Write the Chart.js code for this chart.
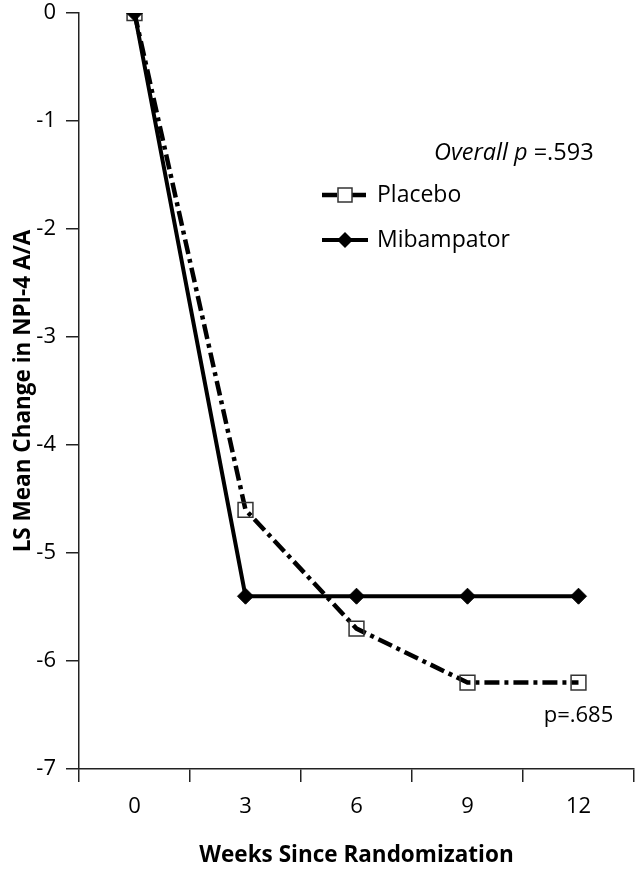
<!DOCTYPE html>
<html>
<head>
<meta charset="utf-8">
<script src="https://cdn.jsdelivr.net/npm/chart.js@4.4.0/dist/chart.umd.min.js"></script>
<style>
  html, body { margin: 0; padding: 0; background: #fff; overflow: hidden; }
  canvas { display: block; }
</style>
</head>
<body>
<canvas id="chart" width="635" height="871"></canvas>
<script>
// data
const weeks = ['0', '3', '6', '9', '12'];
const placebo = [0, -4.6, -5.7, -6.2, -6.2];
const mibampator = [0, -5.4, -5.4, -5.4, -5.4];

const FONT = '"Open Sans", "Noto Sans", sans-serif';
const DASH = [15, 5, 4, 5];

// legend + p-value notes, drawn by hand so the legend sample shows line and marker
const notesPlugin = {
  id: 'notes',
  afterDraw(chart) {
    const ctx = chart.ctx;
    ctx.save();
    ctx.fillStyle = '#000';
    ctx.textBaseline = 'middle';

    // Overall p
    ctx.font = 'italic 23.5px ' + FONT;
    ctx.textAlign = 'left';
    const lead = 'Overall p ';
    ctx.fillText(lead, 434, 153);
    const w = ctx.measureText(lead).width;
    ctx.font = '23.5px ' + FONT;
    ctx.fillText('=.593', 434 + w, 153);

    // legend: placebo
    ctx.strokeStyle = '#000';
    ctx.lineWidth = 4.5;
    ctx.setLineDash(DASH);
    ctx.beginPath();
    ctx.moveTo(322, 195);
    ctx.lineTo(368, 195);
    ctx.stroke();
    ctx.setLineDash([]);
    ctx.fillStyle = '#fff';
    ctx.fillRect(338, 188, 14, 14);
    ctx.strokeStyle = '#333';
    ctx.lineWidth = 1.5;
    ctx.strokeRect(338, 188, 14, 14);

    // legend: mibampator
    ctx.strokeStyle = '#000';
    ctx.lineWidth = 4;
    ctx.beginPath();
    ctx.moveTo(322, 240);
    ctx.lineTo(368, 240);
    ctx.stroke();
    ctx.fillStyle = '#000';
    ctx.beginPath();
    ctx.moveTo(345, 232);
    ctx.lineTo(353, 240);
    ctx.lineTo(345, 248);
    ctx.lineTo(337, 240);
    ctx.closePath();
    ctx.fill();

    ctx.font = '23px ' + FONT;
    ctx.fillText('Placebo', 377, 195);
    ctx.fillText('Mibampator', 377, 240);

    // week 12 p-value, placed under the last placebo point
    const xs = chart.scales.x, ys = chart.scales.y;
    const last = placebo.length - 1;
    const px = xs.getPixelForValue(last);
    const py = ys.getPixelForValue(placebo[last]);
    ctx.font = '22px ' + FONT;
    ctx.textAlign = 'center';
    ctx.fillText('p=.685', px, py + 33);
    ctx.restore();
  }
};

new Chart(document.getElementById('chart'), {
  type: 'line',
  data: {
    labels: weeks,
    datasets: [
      {
        label: 'Mibampator',
        data: mibampator,
        borderColor: '#000',
        borderWidth: 4,
        pointStyle: 'rectRot',
        pointRadius: 8,
        pointBackgroundColor: '#000',
        pointBorderColor: '#000',
        pointBorderWidth: 1,
        tension: 0
      },
      {
        label: 'Placebo',
        data: placebo,
        borderColor: '#000',
        borderWidth: 4.5,
        borderDash: DASH,
        pointStyle: 'rect',
        pointRadius: 10.5,
        pointBackgroundColor: 'rgba(0,0,0,0)',
        pointBorderColor: '#333',
        pointBorderWidth: 1.5,
        tension: 0
      }
    ]
  },
  options: {
    responsive: false,
    animation: false,
    layout: { autoPadding: false, padding: { top: 13, right: 1, left: 0, bottom: 0 } },
    plugins: {
      legend: { display: false },
      tooltip: { enabled: false }
    },
    scales: {
      x: {
        offset: true,
        afterFit: s => {
          s.height = 102;
          s.paddingLeft = 0;
          s.paddingRight = 0;
        },
        grid: {
          offset: true,
          drawOnChartArea: false,
          tickLength: 13,
          color: '#222',
          lineWidth: 1.5
        },
        border: { color: '#222', width: 1.5 },
        ticks: { color: '#000', font: { family: FONT, size: 22 }, padding: 12 },
        title: {
          display: true,
          text: 'Weeks Since Randomization',
          color: '#000',
          font: { family: FONT, size: 22.5, weight: 'bold' },
          padding: { top: 0, bottom: 2 }
        }
      },
      y: {
        min: -7,
        max: 0,
        afterFit: s => {
          s.width = 79;
          s.paddingTop = 0;
          s.paddingBottom = 0;
        },
        grid: {
          drawOnChartArea: false,
          tickLength: 13,
          color: '#222',
          lineWidth: 1.5
        },
        border: { color: '#222', width: 1.5 },
        ticks: { stepSize: 1, color: '#000', font: { family: FONT, size: 22 }, padding: 10 },
        title: {
          display: true,
          text: 'LS Mean Change in NPI-4 A/A',
          color: '#000',
          font: { family: FONT, size: 22.5, weight: 'bold' },
          padding: { top: 10, bottom: 0 }
        }
      }
    }
  },
  plugins: [notesPlugin]
});
</script>
</body>
</html>
